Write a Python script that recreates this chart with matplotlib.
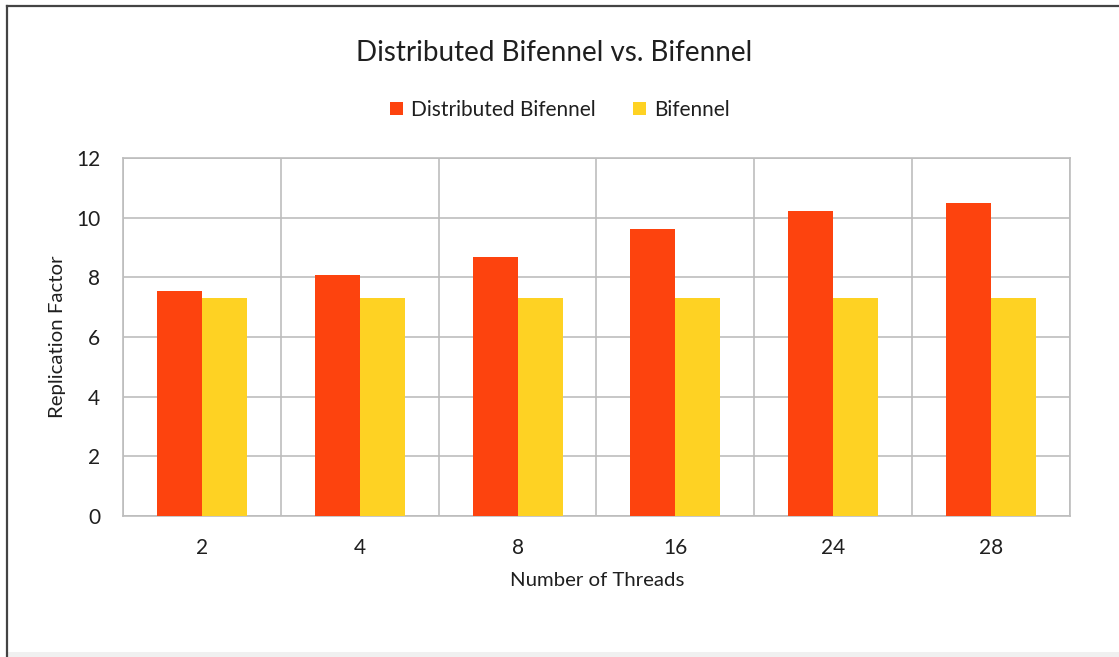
import matplotlib
matplotlib.use("Agg")
import matplotlib.pyplot as plt
import numpy as np
from matplotlib.lines import Line2D
from matplotlib.patches import Rectangle

plt.rcParams['font.family'] = ['Lato', 'DejaVu Sans']

threads = ["2", "4", "8", "16", "24", "28"]
distributed_bifennel = [7.55, 8.09, 8.69, 9.63, 10.23, 10.50]
bifennel = [7.30, 7.30, 7.30, 7.30, 7.30, 7.30]
y_ticks = [0, 2, 4, 6, 8, 10, 12]

RED = "#FD430E"
YELLOW = "#FED223"
GRID = "#BDBDBD"
TEXT = "#1f1f1f"

W, H = 1119, 657
fig = plt.figure(figsize=(W / 100, H / 100), dpi=100)
fig.patch.set_facecolor("white")

# outer frame lines (top and left)
fig.add_artist(Line2D([7 / W, 7 / W], [0, 1 - 6 / H], transform=fig.transFigure,
                      color="#444444", lw=1.6))
fig.add_artist(Line2D([7 / W, 1], [1 - 6 / H, 1 - 6 / H], transform=fig.transFigure,
                      color="#444444", lw=1.6))
# faint band along the bottom edge
fig.add_artist(Rectangle((8 / W, 0), 1, 5 / H, transform=fig.transFigure,
                         facecolor="#F0F0F0", edgecolor="none"))

left, right, top, bottom = 123, 1070, 158, 516
ax = fig.add_axes([left / W, 1 - bottom / H, (right - left) / W, (bottom - top) / H])

x = np.arange(len(threads))
bw = 0.285
ax.bar(x - bw / 2, distributed_bifennel, width=bw, color=RED, zorder=3,
       label="Distributed Bifennel")
ax.bar(x + bw / 2, bifennel, width=bw, color=YELLOW, zorder=3, label="Bifennel")

ax.set_xlim(-0.5, len(threads) - 0.5)
ax.set_ylim(0, 12)
ax.set_yticks(y_ticks)
ax.set_yticklabels([str(v) for v in y_ticks])
ax.set_xticks(x)
ax.set_xticklabels(threads)
ax.set_xticks(np.arange(-0.5, len(threads), 1.0), minor=True)

ax.grid(axis="y", which="major", color=GRID, lw=1.2, zorder=0)
ax.grid(axis="x", which="minor", color=GRID, lw=1.2, zorder=0)
ax.grid(axis="x", which="major", visible=False)
for s in ax.spines.values():
    s.set_color(GRID)
    s.set_linewidth(1.2)

ax.tick_params(axis="both", which="both", length=0, labelsize=15, colors=TEXT)
ax.tick_params(axis="y", pad=16.5)
ax.tick_params(axis="x", pad=16)

ax.set_xlabel("Number of Threads", fontsize=14.7, color=TEXT, va="center")
ax.set_ylabel("Replication Factor", fontsize=14.7, color=TEXT, va="center")
ax.xaxis.set_label_coords(0.5 + (597 - 596.5) / 947, (516 - 581) / 358)
ax.yaxis.set_label_coords((58 - 123) / 947, 0.5)

fig.text(554 / W, 1 - 53 / H, "Distributed Bifennel vs. Bifennel", ha="center",
         va="center", fontsize=20, color=TEXT)

leg = fig.legend(loc="center", bbox_to_anchor=(560 / W, 1 - 110 / H), ncol=2,
                 frameon=False, fontsize=15, handlelength=0.6, handleheight=0.6,
                 handletextpad=0.4, columnspacing=1.8)
for t in leg.get_texts():
    t.set_color(TEXT)

fig.savefig("out.png", dpi=100)
